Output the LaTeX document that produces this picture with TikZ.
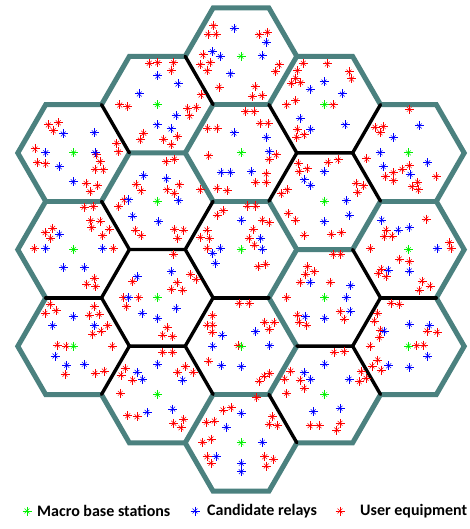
\documentclass[tikz,border=0pt]{standalone}
\usepackage{fontspec}
\setmainfont{Carlito}
\usepackage{tikz}
\usetikzlibrary{calc}
\definecolor{CellTeal}{HTML}{4B817F}
\definecolor{MBSGreen}{HTML}{00F000}
\definecolor{RelayBlue}{HTML}{0000FF}
\definecolor{UERed}{HTML}{FF0000}

\newcommand{\cellwall}[3]{%
  \draw[#1] ($(#2)!0.5!(#3)!0.57735!90:(#3)$) -- ($(#2)!0.5!(#3)!0.57735!-90:(#3)$);}

\begin{document}
\begin{tikzpicture}[x=1pt, y=-1pt,
  outer/.style={draw=CellTeal, line width=5pt, line join=miter},
  tealwall/.style={draw=CellTeal, line width=5pt, line cap=round},
  blackwall/.style={draw=black, line width=3.4pt, line cap=round},
  ast/.pic={\draw (-4.5,0) -- (4.5,0) (0,-4.5) -- (0,4.5);
            \draw[line width=0.5pt] (-2.4,-2.4) -- (2.4,2.4) (-2.4,2.4) -- (2.4,-2.4);},
  mbs/.style={draw=MBSGreen, line width=1pt},
  relay/.style={draw=RelayBlue, line width=1pt},
  ue/.style={draw=UERed, line width=1pt},
  legend/.style={anchor=west, font=\bfseries\fontsize{16}{19}\selectfont, text=black, inner sep=0pt},
]
  \useasboundingbox (0,0) rectangle (469,529);

  \coordinate (m0) at (241,56.3);
  \coordinate (m1) at (241,152.9);
  \coordinate (m2) at (241,249.5);
  \coordinate (m3) at (241,346.1);
  \coordinate (m4) at (241,442.7);
  \coordinate (l10) at (157.3,104.6);
  \coordinate (l11) at (157.3,201.2);
  \coordinate (l12) at (157.3,297.8);
  \coordinate (l13) at (157.3,394.4);
  \coordinate (r10) at (324.7,104.6);
  \coordinate (r11) at (324.7,201.2);
  \coordinate (r12) at (324.7,297.8);
  \coordinate (r13) at (324.7,394.4);
  \coordinate (l20) at (73.6,152.9);
  \coordinate (l21) at (73.6,249.5);
  \coordinate (l22) at (73.6,346.1);
  \coordinate (r20) at (408.4,152.9);
  \coordinate (r21) at (408.4,249.5);
  \coordinate (r22) at (408.4,346.1);

  % cell borders
  \draw[outer] ($(m0)+(-27.9,-48.3)$)
    \foreach \a in {0,60,0,60,0,60,120,60,120,60,120,180,120,180,120,180,240,180,240,180,240,300,240,300,240,300,0,300,0}
      { -- ++(\a:55.8) } -- cycle;
  \foreach \p/\q in {m0/m1,m0/r10,m1/l10,m1/l11,m1/m2,l10/l11,l20/l11,l20/l21,l13/m4,
                     m2/r11,m2/r12,m3/r12,m3/r13,m3/m4,r11/r12,r11/r21,r20/r21}
    \cellwall{tealwall}{\p}{\q};
  \foreach \p/\q in {m0/l10,l10/l20,r10/r20,r10/r11,r10/m1,m1/r11,l11/m2,l11/l12,l11/l21,
                     l21/l12,l21/l22,l22/l12,l22/l13,l12/m2,l12/m3,l12/l13,l13/m3,m2/m3,
                     m4/r13,r11/r20,r12/r21,r12/r22,r12/r13,r13/r22,r21/r22}
    \cellwall{blackwall}{\p}{\q};

  % user equipment
  \foreach \x/\y in {48.3/125,58.3/122.7,53.3/130.7,35/149,96/155,100/161.7,37.3/162.7,45.7/164,
                     95/169.3,103.3/170,86/183.3,97.7/186,90/191.7,116.7/143.3,118.5/152,
                     84/207.3,93.3/206.7,90.7/220.7,100/221,91.7/227.7,109/229,102.7/235.7,45/232.7,
                     52.7/228.3,50.7/238.3,34.3/248.5,113.3/248.5,94.3/278.3,86.7/284,95.7/286.7,
                     50/304.3,45/313.3,56/310.7,94/306.7,89.3/315,99/314.3,107.7/325.7,92.7/334,
                     101/331,57.3/345,66/346,112.3/346,65/374.3,95/373.3,104.3/371,
                     213.5/26,208/34.3,216/34.3,259/35,267.5/32.3,203/55,210/62.7,200.3/65,
                     207.2/71,279/65,275.5/71.7,219/87.3,255/86.7,252.3/96.7,262/95.7,
                     149.3/63.3,157.7/62.7,173.7/62.7,171.3/70.7,119.7/105,127.7/106.7,187.7/108.3,
                     196.3/107.3,189.7/116,201/95,143.7/133.3,140.3/140,163.7/139.3,177.7/136.7,171.3/145,
                     207.7/128.3,217/128.3,208.7/156,217/188.3,227/190.7,200.3/190,245.7/111.7,
                     254/111.7,260/123.3,268/123.3,269/159.3,276.3/155,266.3/174,255.7/182.3,266.3/182.3,
                     166/161.7,174.3/159.3,136/184.3,141/191,179.3/185,167/190,174.3/193.3,124.3/200,
                     118.7/206.7,135.3/230,141/235.7,174.3/229.3,183.7/230,177.7/238.3,
                     303.3/63.3,327.3/64,297.3/70.7,349/72,351.5/79,295.7/78.3,291.3/83.3,300.7/82.7,
                     333/105,295.7/100.7,286.7/105,297.3/129.3,304/135,296.7/137.3,
                     328/162.3,338/160,298.3/163.3,299/171.7,307.3/169,281.3/194,287.3/190,288/213.3,
                     295.7/220,304/235,331.3/234.3,341.3/232.7,356/183.3,363.7/186,357.7/192.3,
                     409.3/109.3,375/127.3,383.3/126.7,380/132.7,366.7/159,409.3/165.7,402/169.3,
                     393.3/172.7,385.3/176.7,393.7/180.7,417.7/182.3,412/186.7,418.3/190,436/176.7,
                     207/230,209.3/238.3,200.3/237.3,207/248.3,223/210.7,217/215,247.3/206,255.7/206,
                     262.3/220,269/222.7,253/229.3,249/238.3,254.5/245,258/266.7,265.7/264.3,
                     173.7/254.3,190.3/274.3,196/279.3,177/282.7,171.3/289.3,182.7/290,132.7/281.7,
                     123.7/297.7,138.7/297.7,126.3/306.7,167/327.7,162.7/335,172.7/336.7,
                     426/219,386/230,384.3/236.7,392/236,370.3/248.5,449.3/242.7,451/248.5,399.3/259,
                     409.3/261.7,381/269,378.3/273.3,386/276.7,422/281,430/286,419.3/290,
                     333.3/254.3,340.7/254.3,307.3/266.7,314/271.7,305.7/274.3,300/282.3,330/282.3,
                     286.7/297.7,297.3/315,299/322.3,306.7/325,340/311.7,344/319,
                     264.7/322.3,274/322.3,269/329.3,238/345.7,269.7/373.3,264/376,259/381,212.7/315.7,
                     212.7/325,207/325,212/332.3,208.7/361,239/303.3,249/303.3,
                     162.7/352.3,172.7/352.3,125.3/368.3,132.7/380,121/375,177.7/372.3,185.3/366.7,
                     193/372.3,120.3/393.3,127.7/415.7,137/416.7,173.7/423.3,183.7/419.3,181/427.7,
                     391/303.3,399.3/304.3,377.7/313.3,374.3/321,427/331,437/332.3,380.3/330,379.3/337.7,
                     370/346,416.7/345.7,423.7/345,377.7/360,372/366,381/370,
                     334/352.3,344/351.7,290.7/371,284.7/379,300/380,304/388.3,286.7/393.3,310/425.7,
                     319/425.7,340/423.3,336.7/430,361/371.7,359.3/381.7,366/378.3,
                     256.7/397.7,272.3/416.7,269/424.3,277.3/425.7,264.7/456.7,273.3/459.3,266.3/466,
                     223/410,231/407.7,206.3/422.3,214.3/421,202.7/442.3,211/439,207/456.7,211/463.3}
    \pic[ue] at (\x,\y) {ast};

  % candidate relays
  \foreach \x/\y in {63.3/134,94.3/132.7,45.7/152.7,95/152.7,59.3/166.7,73.3/181.7,
                     59.3/234.3,45.7/248.3,102.7/248.3,63.3/267.7,84.3/267.7,
                     73.3/316.7,52.7/325.7,94.3/325.7,55/356,66.7/365.3,84.3/364.3,
                     234/28.3,266.3/42.3,212.5/51.7,220.3/56.5,262/56,230.5/74,
                     157.7/76,178/84,139.3/94,176/115.7,157/125,171/129,
                     234/133,266.3/137.3,269/151.7,221/172.3,230.3/172.3,251.3/171.7,
                     143.7/175.7,166.3/179,128.7/200,178.7/200.7,132.7/216,158.7/221.7,
                     324/82,310/89.3,342.3/94,300/118.3,310.7/129.3,345/125,
                     324/171.7,304/180,310.7/185.3,346.3/200.7,324/221.7,349/215,
                     419.3/126,393.3/137.7,380/152.7,427.7/162.7,383.3/166.7,410/174.3,
                     241.3/220,260.7/238.3,262.3/249,220.3/248.3,212.7/253.3,215.3/263.3,
                     137/276.7,171.3/271.7,128.7/297.7,176/308.3,142/313.3,157.7/318.3,
                     381.7/220,398.3/230,409.3/227.7,437/248.5,388.3/270,409.3/271,
                     310/282.3,350.7/285.7,346.3/297.7,305/316.7,324.7/318.3,350/311,
                     255.7/331.7,269.7/345.7,241.3/366.7,222/335,212.7/346,221.3/365.7,
                     157.7/364,137/372.3,142.7/379.3,182.7/380,147/412.3,172.7/409,
                     409.3/324.3,429.3/325.7,384.3/331,427.7/356,388.7/365.7,409.3/367.3,
                     324.7/364,304/372.7,310.7/379.3,349/379.3,313.3/411.7,340/408.3,
                     241.3/413.3,262.3/442.3,241.3/463.3,241.3/471.7,226.3/427.3,216.3/456.7}
    \pic[relay] at (\x,\y) {ast};

  % macro base stations
  \foreach \c in {m0,m1,m2,m3,m4,l10,l11,l12,l13,r10,r11,r12,r13,l20,l21,l22,r20,r21,r22}
    \pic[mbs] at (\c) {ast};

  % legend
  \pic[mbs] at (27,511) {ast};
  \node[legend] (lgmbs) at (37,511) {Macro base stations};
  \pic[relay] at (195,511) {ast};
  \node[legend] (lgrelay) at (207,511) {Candidate relays};
  \pic[ue] at (340,511) {ast};
  \node[legend] (lgue) at (360,511) {User equipment};
\end{tikzpicture}
\end{document}
